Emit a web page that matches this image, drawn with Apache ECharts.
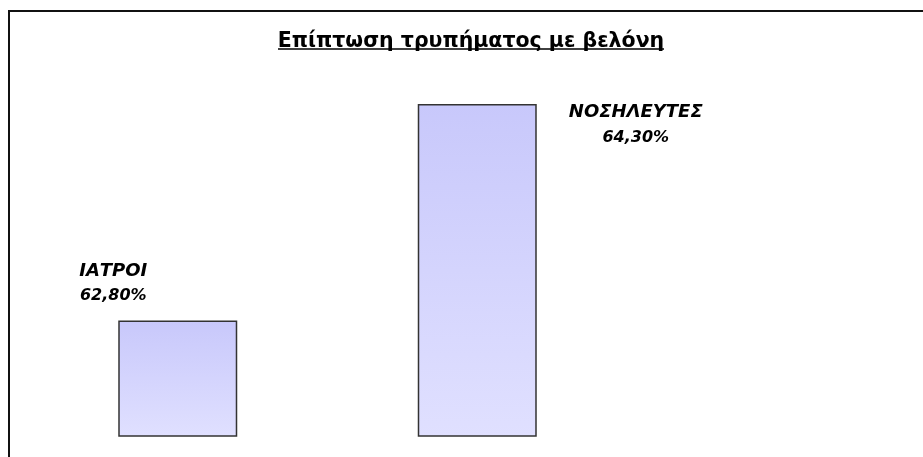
<!DOCTYPE html>
<html>
<head>
<meta charset="utf-8">
<script src="https://cdn.jsdelivr.net/npm/echarts@6/dist/echarts.min.js"></script>
<style>
  html, body { margin: 0; padding: 0; background: #fff; }
  #main { width: 923px; height: 457px; }
</style>
</head>
<body>
<div id="main"></div>
<script>
  // δεδομένα του γραφήματος
  var categories = ['ΙΑΤΡΟΙ', 'ΝΟΣΗΛΕΥΤΕΣ'];
  var values = [62.8, 64.3];
  var valueLabels = ['62,80%', '64,30%'];
  var titleText = 'Επίπτωση τρυπήματος με βελόνη';

  // θέσεις των ετικετών σε σχέση με την μπάρα
  var labelPos = [[-5, -62], [218, -4]];

  var chart = echarts.init(document.getElementById('main'));

  var option = {
    backgroundColor: '#fff',
    animation: false,
    title: {
      text: titleText,
      left: 466,
      top: 26,
      textAlign: 'center',
      textStyle: {
        fontFamily: 'DejaVu Sans',
        fontWeight: 'bold',
        fontSize: 20.5,
        color: '#000'
      }
    },
    graphic: [
      {
        type: 'rect',
        shape: { x: 9, y: 11, width: 1200, height: 1200 },
        style: { fill: 'none', stroke: '#111', lineWidth: 2 },
        silent: true
      },
      {
        // υπογράμμιση τίτλου
        type: 'line',
        shape: { x1: 278, y1: 49, x2: 664, y2: 49 },
        style: { stroke: '#000', lineWidth: 1.5 },
        silent: true
      }
    ],
    grid: { left: 28, top: 75, width: 599, bottom: 21 },
    xAxis: {
      type: 'category',
      data: categories,
      axisLine: { show: false },
      axisTick: { show: false },
      axisLabel: { show: false }
    },
    yAxis: {
      type: 'value',
      min: 62,
      max: 64.5,
      show: false,
      splitLine: { show: false }
    },
    series: [{
      type: 'bar',
      barWidth: 119,
      data: values.map(function (v, i) {
        return {
          value: v,
          label: { position: labelPos[i] }
        };
      }),
      itemStyle: {
        color: new echarts.graphic.LinearGradient(0, 0, 0, 1, [
          { offset: 0, color: '#c8c8fb' },
          { offset: 1, color: '#e0e0ff' }
        ]),
        borderColor: '#333',
        borderWidth: 1.5
      },
      label: {
        show: true,
        align: 'center',
        verticalAlign: 'top',
        color: '#000',
        formatter: function (p) {
          return '{n|' + categories[p.dataIndex] + '}\n{v|' + valueLabels[p.dataIndex] + '}';
        },
        rich: {
          n: {
            fontFamily: 'DejaVu Sans', fontStyle: 'italic', fontWeight: 'bold',
            fontSize: 18, lineHeight: 25, color: '#000'
          },
          v: {
            fontFamily: 'DejaVu Sans', fontStyle: 'italic', fontWeight: 'bold',
            fontSize: 16, lineHeight: 25, color: '#000'
          }
        }
      }
    }]
  };

  chart.setOption(option);
</script>
</body>
</html>
